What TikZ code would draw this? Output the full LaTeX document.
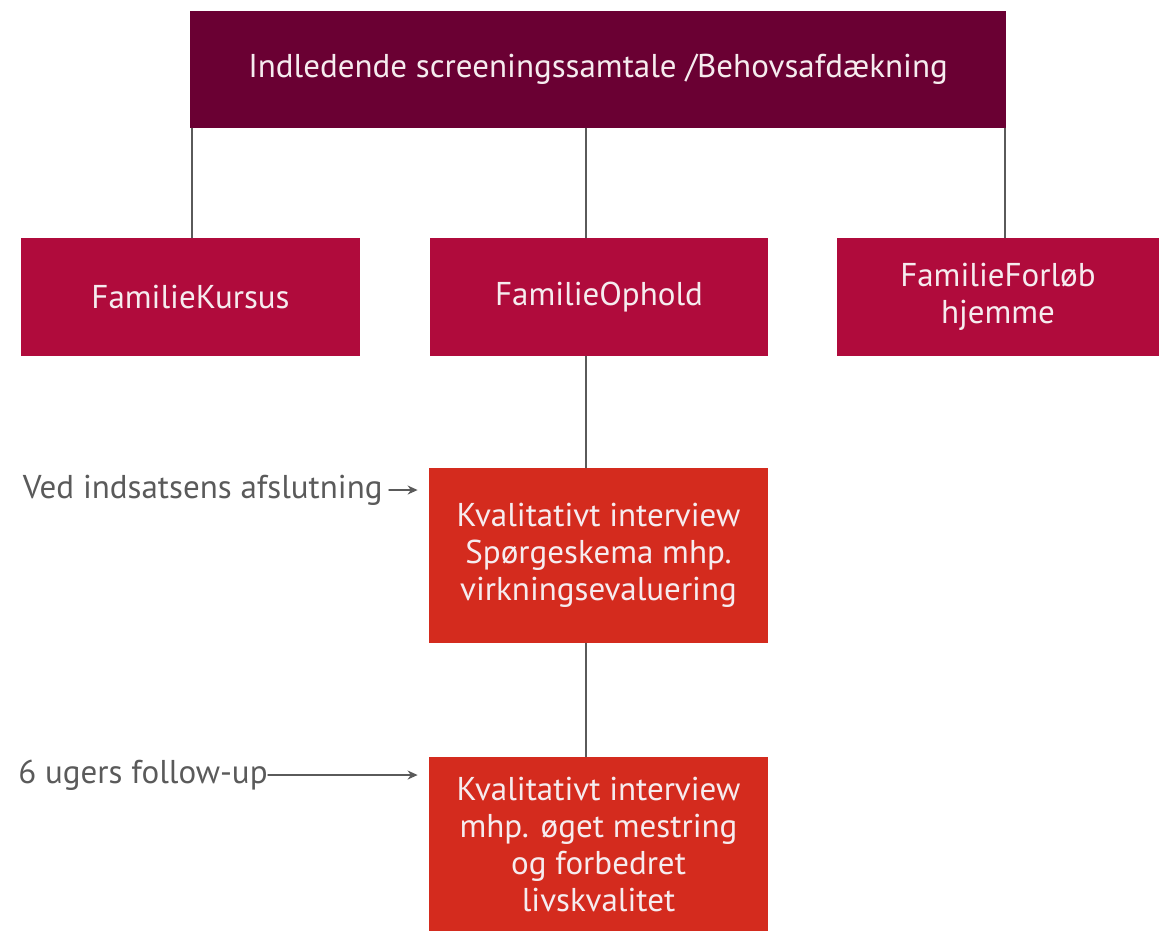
\documentclass[tikz,border=0pt]{standalone}
\usepackage{fontspec}
\setmainfont{PT Sans}
\usetikzlibrary{positioning,arrows.meta}
\definecolor{maroon}{HTML}{6A0033}
\definecolor{crimson}{HTML}{B00B3C}
\definecolor{flame}{HTML}{D42B1E}
\definecolor{boxtext}{HTML}{F6ECEF}
\definecolor{sidetext}{HTML}{5A5A5A}
\tikzset{
  stage/.style={fill=#1, text=boxtext, align=center, inner sep=2pt,
    font=\fontsize{16.5}{18.5}\selectfont},
  note/.style={text=sidetext, inner sep=0pt, font=\fontsize{16.5}{18.5}\selectfont},
  link/.style={draw=sidetext, line width=0.75pt}
}
\begin{document}
\begin{tikzpicture}[x=0.5pt,y=-0.5pt,>={Stealth[length=5pt,width=4.5pt]}, line cap=round]
	\useasboundingbox (0,0) rectangle (1159,934);
	% boxes
	\node[stage=maroon, minimum width=408pt, minimum height=58.5pt] (screening) at (598,69.5) {Indledende screeningssamtale /Behovsafdækning};
	\node[stage=crimson, minimum width=169.5pt, minimum height=59pt] (kursus) at (190.5,297) {FamilieKursus};
	\node[stage=crimson, minimum width=169pt, minimum height=59pt] (ophold) at (599,297) {FamilieOphold};
	\node[stage=crimson, minimum width=161pt, minimum height=59pt] (forloeb) at (998,297) {FamilieForløb\\hjemme};
	\node[stage=flame, minimum width=169.5pt, minimum height=87.5pt] (afslut) at (598.5,555.5) {Kvalitativt interview\\Spørgeskema mhp.\\virkningsevaluering};
	\node[stage=flame, minimum width=169.5pt, minimum height=87pt] (followup) at (598.5,844) {Kvalitativt interview\\mhp. øget mestring\\og forbedret\\livskvalitet};
	% side notes
	\node[note, anchor=east] (vednote) at (383,490) {Ved indsatsens afslutning};
	\node[note, anchor=east] (ugernote) at (268,775) {6 ugers follow-up};
	% tree lines
	\coordinate (leftspine) at (192,0);
	\coordinate (spine) at (586,0);
	\coordinate (rightspine) at (1005,0);
	\draw[link] (screening.south -| leftspine) -- (kursus.north -| leftspine);
	\draw[link] (screening.south -| spine) -- (ophold.north -| spine);
	\draw[link] (screening.south -| rightspine) -- (forloeb.north -| rightspine);
	\draw[link] (ophold.south -| spine) -- (afslut.north -| spine);
	\draw[link] (afslut.south -| spine) -- (followup.north -| spine);
	% note arrows
	\draw[link,->,shorten <=3pt,shorten >=5.5pt] (vednote.east) -- (vednote.east -| afslut.west);
	\draw[link,->,shorten >=5.5pt] (ugernote.east) -- (ugernote.east -| followup.west);
\end{tikzpicture}
\end{document}
